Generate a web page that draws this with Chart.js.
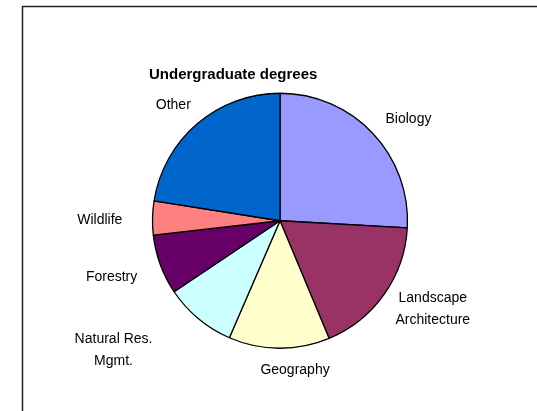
<!DOCTYPE html>
<html><head><meta charset="utf-8">
<script src="https://cdn.jsdelivr.net/npm/chart.js@4.4.1/dist/chart.umd.min.js"></script>
<style>html,body{margin:0;padding:0;background:#fff;overflow:hidden}#wrap{position:relative;width:537px;height:411px}</style>
</head><body><div id="wrap"><canvas id="c" width="537" height="411"></canvas></div>
<script>
// Data
const categories = ["Biology", ["Landscape", "Architecture"], "Geography", ["Natural Res.", "Mgmt."], "Forestry", "Wildlife", "Other"];
const degreeShares = [25.9, 17.8, 12.8, 9.1, 7.6, 4.3, 22.5];
const chartTitle = "Undergraduate degrees";

// Styles
const sliceColors = ["#9999FF", "#993366", "#FFFFCC", "#CCFFFF", "#660066", "#FF8080", "#0066CC"];
const labelExtra = [0, 0, 0, 30, 10, 18, 0];
const labelNudge = [[8, 12], [2, -18], [16, -3], [-30, -35], [0, -5], [2, 3], [-2, 7]];

const framePlugin = {
  id: 'frame',
  beforeDraw(chart) {
    const ctx = chart.ctx;
    ctx.save();
    ctx.fillStyle = '#fff';
    ctx.fillRect(0, 0, chart.width, chart.height);
    ctx.strokeStyle = '#222';
    ctx.lineWidth = 1.5;
    ctx.beginPath();
    ctx.moveTo(22.5, chart.height + 2);
    ctx.lineTo(22.5, 6.5);
    ctx.lineTo(chart.width + 2, 6.5);
    ctx.stroke();
    ctx.restore();
  }
};

const labelPlugin = {
  id: 'sliceLabels',
  afterDatasetsDraw(chart, args, opts) {
    const ctx = chart.ctx;
    const meta = chart.getDatasetMeta(0);
    ctx.save();
    ctx.font = opts.font;
    ctx.fillStyle = '#000';
    ctx.textAlign = 'center';
    ctx.textBaseline = 'middle';
    meta.data.forEach((arc, i) => {
      const p = arc.getProps(['x', 'y', 'startAngle', 'endAngle', 'outerRadius'], true);
      const mid = (p.startAngle + p.endAngle) / 2;
      const lines = [].concat(chart.data.labels[i]);
      const lh = opts.lineHeight;
      const w = Math.max(...lines.map(l => ctx.measureText(l).width));
      const h = lines.length * lh;
      const dx = Math.cos(mid), dy = Math.sin(mid);
      const support = Math.abs(dx) * w / 2 + Math.abs(dy) * h / 2;
      const d = p.outerRadius + opts.gap + support + (opts.extra[i] || 0);
      const n = opts.nudge[i] || [0, 0];
      const cx = p.x + dx * d + n[0], cy = p.y + dy * d + n[1];
      lines.forEach((l, k) => ctx.fillText(l, cx, cy - h / 2 + lh / 2 + k * lh));
    });
    ctx.restore();
  }
};

new Chart(document.getElementById('c'), {
  type: 'pie',
  data: {
    labels: categories,
    datasets: [{
      data: degreeShares,
      backgroundColor: sliceColors,
      borderColor: '#000',
      borderWidth: 1.3
    }]
  },
  options: {
    responsive: false,
    animation: false,
    devicePixelRatio: 1,
    radius: 127.5,
    layout: { padding: { left: 149, right: 126, top: 0, bottom: 63.5 } },
    plugins: {
      legend: { display: false },
      tooltip: { enabled: false },
      title: {
        display: true,
        text: chartTitle,
        align: 'start',
        color: '#000',
        font: { family: '"Liberation Sans", Arial, sans-serif', size: 15, weight: 'bold', lineHeight: 1.2 },
        padding: { top: 66, bottom: 10 }
      },
      sliceLabels: {
        font: '14px "Liberation Sans", Arial, sans-serif',
        lineHeight: 22,
        gap: 14,
        extra: labelExtra,
        nudge: labelNudge
      }
    }
  },
  plugins: [framePlugin, labelPlugin]
});
</script>
</body></html>
